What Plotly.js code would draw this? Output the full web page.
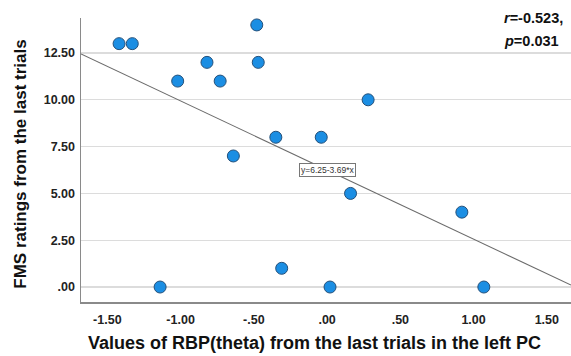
<!DOCTYPE html>
<html>
<head>
<meta charset="utf-8">
<script src="https://cdn.plot.ly/plotly-3.0.1.min.js"></script>
<style>html,body{margin:0;padding:0;background:#fff}#chart{width:571px;height:356px}</style>
</head>
<body>
<div id="chart"></div>
<script>
// Data
var rbpTheta = [-1.42, -1.33, -0.48, -1.02, -0.82, -0.73, -0.47, -0.35, -0.04, -0.64, 0.28, 0.16, 0.92, 0.02, 1.07, -1.14, -0.31];
var fmsRating = [13, 13, 14, 11, 12, 11, 12, 8, 8, 7, 10, 5, 4, 0, 0, 0, 1];
var fitIntercept = 6.25;
var fitSlope = -3.69;
var xRange = [-1.68, 1.665];
var yRange = [-0.8, 14.37];
var xTickVals = [-1.5, -1.0, -0.5, 0, 0.5, 1.0, 1.5];
var xTickText = ['-1.50', '-1.00', '-.50', '.00', '.50', '1.00', '1.50'];
var yTickVals = [0, 2.5, 5, 7.5, 10, 12.5];
var yTickText = ['.00', '2.50', '5.00', '7.50', '10.00', '12.50'];
var xTitle = 'Values of RBP(theta) from the last trials in the left PC';
var yTitle = 'FMS ratings from the last trials';
var statR = '-0.523';
var statP = '0.031';

var fitX = xRange.slice();
var fitY = fitX.map(function (x) { return fitIntercept + fitSlope * x; });
var font = 'Liberation Sans, Arial, sans-serif';

var traces = [
  {
    x: fitX, y: fitY, type: 'scatter', mode: 'lines',
    line: {color: '#6b6b6b', width: 1.1}, hoverinfo: 'skip', cliponaxis: true
  },
  {
    x: rbpTheta, y: fmsRating, type: 'scatter', mode: 'markers',
    marker: {size: 12, color: '#1b8ee3', line: {color: '#24507a', width: 1}},
    cliponaxis: false
  }
];

var layout = {
  width: 571, height: 356,
  margin: {l: 81, r: 0, t: 18, b: 54, pad: 0},
  paper_bgcolor: '#ffffff', plot_bgcolor: '#ffffff',
  showlegend: false,
  font: {family: font, color: '#1a1a1a'},
  xaxis: {
    range: xRange, tickvals: xTickVals, ticktext: xTickText,
    showgrid: false, zeroline: false, showline: true, linecolor: '#8a8a8a', linewidth: 1.5,
    ticks: '', tickfont: {family: font, size: 12.5, color: '#222', weight: 'bold'},
    ticklabelstandoff: 5
  },
  yaxis: {
    range: yRange, tickvals: yTickVals, ticktext: yTickText,
    showgrid: true, gridcolor: '#dcdcdc', gridwidth: 1.2,
    zeroline: false, showline: true, linecolor: '#8a8a8a', linewidth: 1.5,
    ticks: '', tickfont: {family: font, size: 12.5, color: '#222', weight: 'bold'},
    ticklabelstandoff: 2
  },
  annotations: [
    {
      x: 0.4765, y: -0.144, xref: 'paper', yref: 'paper', xanchor: 'center', yanchor: 'middle',
      text: '<b>' + xTitle + '</b>', showarrow: false,
      font: {family: font, size: 18, color: '#111'}
    },
    {
      x: -0.1224, y: 0.4835, xref: 'paper', yref: 'paper', xanchor: 'center', yanchor: 'middle',
      text: '<b>' + yTitle + '</b>', showarrow: false, textangle: -90,
      font: {family: font, size: 17, color: '#111'}
    },
    {
      x: 0, y: fitIntercept, xref: 'x', yref: 'y',
      text: 'y=' + fitIntercept.toFixed(2) + '-' + Math.abs(fitSlope).toFixed(2) + '*x',
      showarrow: false, font: {family: font, size: 8.5, color: '#333'},
      bgcolor: '#ffffff', bordercolor: '#777', borderwidth: 1, borderpad: 1
    },
    {
      x: 0.859, y: 1.0, xref: 'paper', yref: 'paper', xanchor: 'left', yanchor: 'middle',
      text: '<b><i>r</i>=' + statR + ',</b>', showarrow: false,
      font: {family: font, size: 14.5, color: '#111'}
    },
    {
      x: 0.859, y: 0.918, xref: 'paper', yref: 'paper', xanchor: 'left', yanchor: 'middle',
      text: '<b><i>p</i>=' + statP + '</b>', showarrow: false,
      font: {family: font, size: 14.5, color: '#111'}
    }
  ]
};

Plotly.newPlot('chart', traces, layout, {displayModeBar: false, staticPlot: true});
</script>
</body>
</html>
